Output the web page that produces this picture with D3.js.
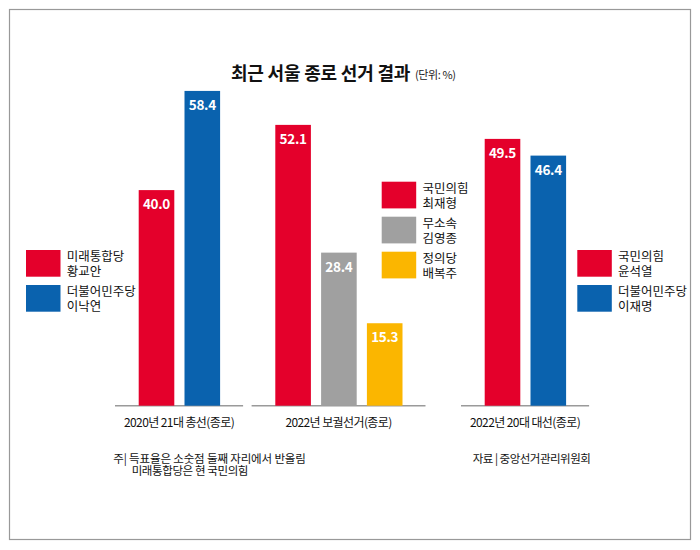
<!DOCTYPE html>
<html>
<head>
<meta charset="utf-8">
<script src="https://cdn.jsdelivr.net/npm/d3@7"></script>
<style>
  body { margin: 0; background: #fff; }
  text { font-family: "Noto Sans CJK KR", "Noto Sans", sans-serif; }
</style>
</head>
<body>
<div id="chart"></div>
<script>
// Data
const elections = ["2020년 21대 총선(종로)", "2022년 보궐선거(종로)", "2022년 20대 대선(종로)"]
const parties = [
    ["미래통합당", "더불어민주당"],
    ["국민의힘", "무소속", "정의당"],
    ["국민의힘", "더불어민주당"]
]
const candidates = [
    ["황교안", "이낙연"],
    ["최재형", "김영종", "배복주"],
    ["윤석열", "이재명"]
]
const shares = [
    [40.0, 58.4],
    [52.1, 28.4, 15.3],
    [49.5, 46.4]
]
const notes = ["주| 득표율은 소숫점 둘째 자리에서 반올림", "미래통합당은 현 국민의힘"]
const source = "자료 | 중앙선거관리위원회"

const partyColor = {
    "미래통합당": "#e4002b",
    "국민의힘": "#e4002b",
    "더불어민주당": "#0a62ae",
    "무소속": "#a0a0a0",
    "정의당": "#fbb600"
}

// Layout
const width = 700
const height = 550
const baseY = 405.7
const barStep = 45.8
const barW = 35.6
const groupStart = [138.7, 275.3, 484.7]   // left edge of the first bar in each group
const legendPos = [[26, 250], [381.7, 181.7], [577.3, 250]]

const svg = d3.select('#chart')
    .append('svg').attr('width', width).attr('height', height)

// frame
svg.append('rect')
    .attr('x', 9.5).attr('y', 9.5)
    .attr('width', 681).attr('height', 530)
    .attr('fill', 'none')
    .attr('stroke', '#999')
    .attr('stroke-width', 1.2)

// title
svg.append('text')
    .attr('x', 231).attr('y', 80)
    .text('최근 서울 종로 선거 결과')
    .attr('font-size', 18)
    .attr('font-weight', 'bold')
    .attr('letter-spacing', -0.2)
    .attr('fill', '#111')
svg.append('text')
    .attr('x', 415).attr('y', 79)
    .text('(단위: %)')
    .attr('font-size', 11)
    .attr('letter-spacing', -0.4)
    .attr('fill', '#222')

const y = d3.scaleLinear()
    .domain([0, 60])
    .range([baseY, baseY - 60 * 5.39])

const fmt = d3.format('.1f')

elections.forEach((label, gi) => {
    const n = shares[gi].length
    const pad = 1 - barW / barStep
    const x = d3.scaleBand()
        .domain(d3.range(n))
        .range([groupStart[gi], groupStart[gi] + barStep * (n - pad)])
        .paddingInner(pad)
        .paddingOuter(0)

    const g = svg.append('g').attr('class', 'group-' + gi)

    // baseline
    const [r0, r1] = x.range()
    g.append('line')
        .attr('x1', r0 - 23.7).attr('x2', r1 + 23)
        .attr('y1', baseY).attr('y2', baseY)
        .attr('stroke', '#9a9a9a')
        .attr('stroke-width', 1.5)

    g.selectAll('rect.bar')
        .data(shares[gi])
        .join('rect')
        .attr('class', 'bar')
        .attr('x', (d, i) => x(i))
        .attr('y', d => y(d))
        .attr('width', x.bandwidth())
        .attr('height', d => y(0) - y(d))
        .attr('fill', (d, i) => partyColor[parties[gi][i]])

    g.selectAll('text.value')
        .data(shares[gi])
        .join('text')
        .attr('class', 'value')
        .attr('x', (d, i) => x(i) + x.bandwidth() / 2)
        .attr('y', d => y(d) + 19)
        .attr('text-anchor', 'middle')
        .attr('font-size', 13.5)
        .attr('font-weight', 'bold')
        .attr('font-family', '"Liberation Sans Narrow", "Liberation Sans", sans-serif')
        .attr('letter-spacing', -0.3)
        .attr('fill', '#fff')
        .text(d => fmt(d))

    // group label
    g.append('text')
        .attr('x', (r0 - 23.7 + r1 + 23) / 2)
        .attr('y', baseY + 21.5)
        .attr('text-anchor', 'middle')
        .attr('font-size', 12)
        .attr('letter-spacing', -0.6)
        .attr('fill', '#111')
        .text(label)

    // legend
    const [lx, ly] = legendPos[gi]
    const items = g.selectAll('g.legend')
        .data(parties[gi])
        .join('g')
        .attr('class', 'legend')
        .attr('transform', (d, i) => `translate(${lx},${ly + i * 35})`)
    items.append('rect')
        .attr('width', 34.5).attr('height', 26.7)
        .attr('fill', d => partyColor[d])
    items.append('text')
        .attr('x', 40.7).attr('y', 11.3)
        .attr('font-size', 12.5)
        .attr('letter-spacing', 0)
        .attr('fill', '#111')
        .text(d => d)
    items.append('text')
        .attr('x', 40.7).attr('y', 26.3)
        .attr('font-size', 12.5)
        .attr('letter-spacing', 0)
        .attr('fill', '#111')
        .text((d, i) => candidates[gi][i])
})

// notes
svg.append('text')
    .attr('x', 113.3).attr('y', 462.5)
    .attr('font-size', 11.5)
    .attr('letter-spacing', -0.15)
    .attr('fill', '#111')
    .text(notes[0])
svg.append('text')
    .attr('x', 131.7).attr('y', 474.5)
    .attr('font-size', 11.5)
    .attr('letter-spacing', -0.4)
    .attr('fill', '#111')
    .text(notes[1])
svg.append('text')
    .attr('x', 472.7).attr('y', 462.5)
    .attr('font-size', 11.5)
    .attr('letter-spacing', -0.5)
    .attr('fill', '#111')
    .text(source)
</script>
</body>
</html>
